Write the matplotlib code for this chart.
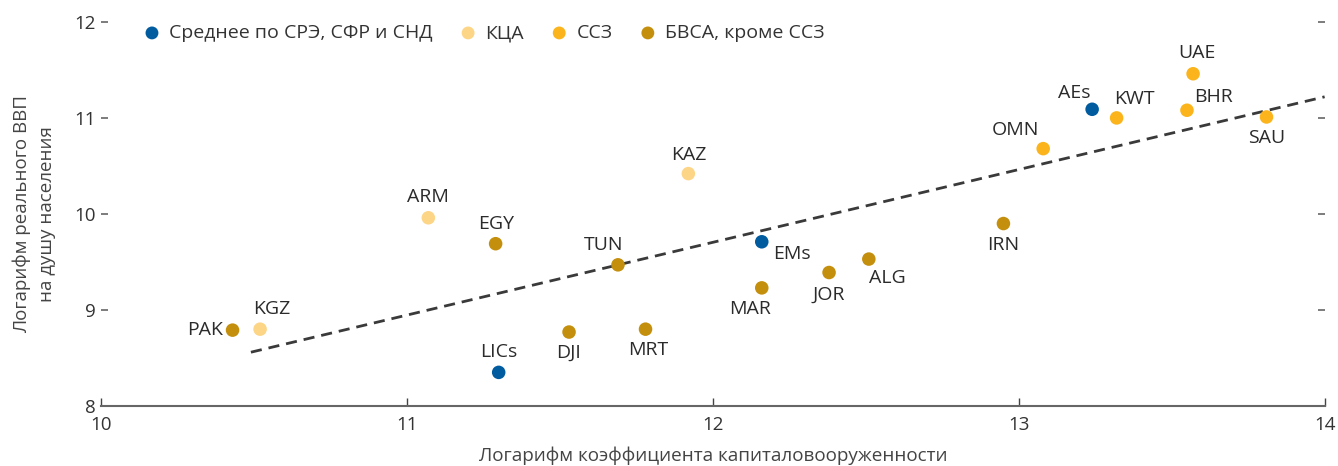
import matplotlib.pyplot as plt

plt.rcParams["font.family"] = ["Open Sans", "DejaVu Sans"]

# data
names = ["PAK", "KGZ", "ARM", "EGY", "TUN", "KAZ", "LICs", "DJI", "MRT", "EMs",
         "MAR", "JOR", "ALG", "IRN", "OMN", "AEs", "KWT", "UAE", "BHR", "SAU"]
capital = [10.43, 10.52, 11.07, 11.29, 11.69, 11.92, 11.30, 11.53, 11.78, 12.16,
           12.16, 12.38, 12.51, 12.95, 13.08, 13.24, 13.32, 13.57, 13.55, 13.81]
gdp = [8.79, 8.80, 9.96, 9.69, 9.47, 10.42, 8.35, 8.77, 8.80, 9.71,
       9.23, 9.39, 9.53, 9.90, 10.68, 11.09, 11.00, 11.46, 11.08, 11.01]
group = ["mena", "cca", "cca", "mena", "mena", "cca", "avg", "mena", "mena", "avg",
         "mena", "mena", "mena", "mena", "gcc", "avg", "gcc", "gcc", "gcc", "gcc"]

trend_x = [10.49, 14.0]
trend_y = [8.56, 11.22]

groups = ["avg", "cca", "gcc", "mena"]
group_labels = ["Среднее по СРЭ, СФР и СНД", "КЦА", "ССЗ", "БВСА, кроме ССЗ"]
colors = {"avg": "#005b9f", "cca": "#fdd587", "gcc": "#fbb41c", "mena": "#c48f0c"}

# label offsets in pixels (dx, dy, ha)
offsets = {
    "PAK": (-10, 0, "right"), "KGZ": (12, 20, "center"), "ARM": (0, 21, "center"),
    "EGY": (0, 20, "center"), "TUN": (-14, 20, "center"), "KAZ": (0, 19, "center"),
    "LICs": (0, 20, "center"), "DJI": (0, -21, "center"), "MRT": (3, -21, "center"),
    "EMs": (11, -12, "left"), "MAR": (-12, -21, "center"), "JOR": (0, -22, "center"),
    "ALG": (19, -19, "center"), "IRN": (0, -21, "center"), "OMN": (-28, 19, "center"),
    "AEs": (-18, 16, "center"), "KWT": (18, 19, "center"), "UAE": (4, 21, "center"),
    "BHR": (27, 13, "center"), "SAU": (0, -21, "center"),
}

fig = plt.figure(figsize=(13.38, 4.66), dpi=100)
ax = fig.add_axes([0.0755, 0.1288, 0.9145, 0.8242])

ax.plot(trend_x, trend_y, ls=(0, (4, 2.5)), color="#3a3a3a", lw=2, zorder=1)

for g, lab in zip(groups, group_labels):
    xs = [x for x, gg in zip(capital, group) if gg == g]
    ys = [y for y, gg in zip(gdp, group) if gg == g]
    ax.scatter(xs, ys, s=95, color=colors[g], edgecolors="none", label=lab, zorder=3)

for n, x, y in zip(names, capital, gdp):
    dx, dy, ha = offsets[n]
    ax.annotate(n, (x, y), xytext=(dx, dy), textcoords="offset pixels",
                ha=ha, va="center", fontsize=14, color="#2b2b2b")

ax.set_xlim(10, 14)
ax.set_ylim(8, 12)
ax.set_xticks([10, 11, 12, 13, 14])
ax.set_yticks([8, 9, 10, 11, 12])

for s in ["top", "left", "right"]:
    ax.spines[s].set_visible(False)
ax.spines["bottom"].set_color("#666666")
ax.spines["bottom"].set_linewidth(1.5)

ax.tick_params(axis="x", direction="in", length=6, width=1, color="#444444",
               labelsize=13.5, labelcolor="#333333", pad=7)
ax.tick_params(axis="y", direction="in", length=5, width=1.2, color="#666666",
               labelsize=13.5, labelcolor="#333333", right=True, pad=4)

ax.set_xlabel("Логарифм коэффициента капиталовооруженности", fontsize=13.6,
              color="#444444", labelpad=9)
ax.set_ylabel("Логарифм реального ВВП\nна душу населения", fontsize=13.5,
              color="#444444", linespacing=1.45)
ax.yaxis.set_label_coords(-0.037, 0.5)

ax.legend(loc="upper left", bbox_to_anchor=(0.0194, 1.04), ncol=4, frameon=False,
          fontsize=14, handlelength=1.0, handletextpad=0.4, columnspacing=1.3,
          markerscale=0.95, labelcolor="#333333")

fig.savefig("out.png", dpi=100)
